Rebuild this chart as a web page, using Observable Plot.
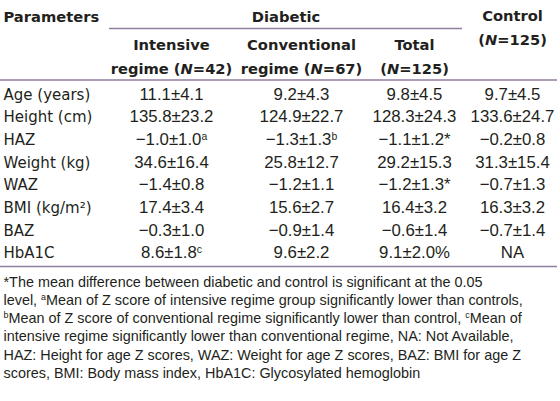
<!DOCTYPE html>
<html><head><meta charset="utf-8">
<script src="https://cdn.jsdelivr.net/npm/d3@7"></script>
<script src="https://cdn.jsdelivr.net/npm/@observablehq/plot@0.6"></script>
<style>body{margin:0;background:#fff}svg{display:block}</style>
</head><body><div id="chart"></div>
<script>
// ---- data ----
const parameters = ["Age (years)", "Height (cm)", "HAZ", "Weight (kg)", "WAZ", "BMI (kg/m²)", "BAZ", "HbA1C"];
const intensive = ["11.1±4.1", "135.8±23.2", "−1.0±1.0^a", "34.6±16.4", "−1.4±0.8", "17.4±3.4", "−0.3±1.0", "8.6±1.8^c"];
const conventional = ["9.2±4.3", "124.9±22.7", "−1.3±1.3^b", "25.8±12.7", "−1.2±1.1", "15.6±2.7", "−0.9±1.4", "9.6±2.2"];
const total = ["9.8±4.5", "128.3±24.3", "−1.1±1.2*", "29.2±15.3", "−1.2±1.3*", "16.4±3.2", "−0.6±1.4", "9.1±2.0%"];
const control = ["9.7±4.5", "133.6±24.7", "−0.2±0.8", "31.3±15.4", "−0.7±1.3", "16.3±3.2", "−0.7±1.4", "NA"];
const topHeaders = ["Parameters", "Diabetic", "Control", "(‹N›=125)"];
const subHeaders = [
  ["Intensive", "regime (‹N›=42)"],
  ["Conventional", "regime (‹N›=67)"],
  ["Total", "(‹N›=125)"]
];
const footnotes = [
  "*The mean difference between diabetic and control is significant at the 0.05",
  "level, ^aMean of Z score of intensive regime group significantly lower than controls,",
  "^bMean of Z score of conventional regime significantly lower than control, ^cMean of",
  "intensive regime significantly lower than conventional regime, NA: Not Available,",
  "HAZ: Height for age Z scores, WAZ: Weight for age Z scores, BAZ: BMI for age Z",
  "scores, BMI: Body mass index, HbA1C: Glycosylated hemoglobin"
];

// ---- layout ----
const W = 560, H = 401;
const colX = {param: 3, intensive: 171, conventional: 301, total: 414, control: 512};
const row0 = 99, rowStep = 22.7;
const foot0 = 286, footStep = 18.3;
const ink = "#231f20", ruleColor = "#8f7e9e";

const valueCols = [["intensive", intensive], ["conventional", conventional], ["total", total], ["control", control]];
const cells = [];
valueCols.forEach(([k, arr]) => arr.forEach((v, i) => cells.push({x: colX[k], y: row0 + i * rowStep, text: v})));
const paramCells = parameters.map((p, i) => ({x: colX.param, y: row0 + i * rowStep, text: p}));
const headLeft = [{x: colX.param, y: 21, text: topHeaders[0]}];
const headCells = [
  {x: (109 + 462) / 2, y: 21, text: topHeaders[1]},
  {x: colX.control, y: 20, text: topHeaders[2]},
  {x: colX.control, y: 44, text: topHeaders[3]}
];
["intensive", "conventional", "total"].forEach((k, j) => {
  subHeaders[j].forEach((t, l) => headCells.push({x: colX[k], y: 49 + l * 24, text: t}));
});
const footCells = footnotes.map((f, i) => ({x: 3, y: foot0 + i * footStep, text: f}));
const rules = [
  {x1: 109, x2: 462, y: 28},
  {x1: 0, x2: 557, y: 79.5},
  {x1: 0, x2: 557, y: 266}
];

const headStyle = {fontFamily: "DejaVu Sans", fontWeight: "bold", fontSize: 14.7, fill: ink, lineAnchor: "bottom"};
const chart = Plot.plot({
  width: W, height: H, margin: 0,
  x: {type: "identity", axis: null},
  y: {type: "identity", axis: null},
  marks: [
    Plot.ruleY(rules, {y: "y", x1: "x1", x2: "x2", stroke: ruleColor, strokeWidth: 1.3}),
    Plot.text(headLeft, {x: "x", y: "y", text: "text", textAnchor: "start", ...headStyle}),
    Plot.text(headCells, {x: "x", y: "y", text: "text", textAnchor: "middle", ...headStyle}),
    Plot.text(paramCells, {x: "x", y: "y", text: "text", textAnchor: "start", lineAnchor: "bottom",
      fontFamily: "DejaVu Sans", fontSize: 15, fill: ink}),
    Plot.text(cells, {x: "x", y: "y", text: "text", textAnchor: "middle", lineAnchor: "bottom",
      fontFamily: "Liberation Sans", fontSize: 16.8, fill: ink}),
    Plot.text(footCells, {x: "x", y: "y", text: "text", textAnchor: "start", lineAnchor: "bottom",
      fontFamily: "Liberation Sans", fontSize: 14.4, fill: ink})
  ]
});

// rich text: ‹italic› and ^superscript
chart.querySelectorAll("text").forEach(t => {
  const s = t.textContent;
  if (!/[‹^]/.test(s)) return;
  t.textContent = "";
  const parts = s.split(/(‹[^›]*›|\^.)/).filter(p => p !== "");
  let raised = false;
  parts.forEach(p => {
    const ts = document.createElementNS("http://www.w3.org/2000/svg", "tspan");
    if (p.startsWith("‹")) {
      ts.textContent = p.slice(1, -1);
      ts.setAttribute("font-style", "italic");
      if (raised) { ts.setAttribute("dy", "5"); raised = false; }
    } else if (p.startsWith("^")) {
      ts.textContent = p.slice(1);
      ts.setAttribute("font-size", "62%");
      ts.setAttribute("dy", "-5");
      raised = true;
    } else {
      ts.textContent = p;
      if (raised) { ts.setAttribute("dy", "5"); raised = false; }
    }
    t.appendChild(ts);
  });
});

document.getElementById("chart").appendChild(chart);
</script>
</body></html>
